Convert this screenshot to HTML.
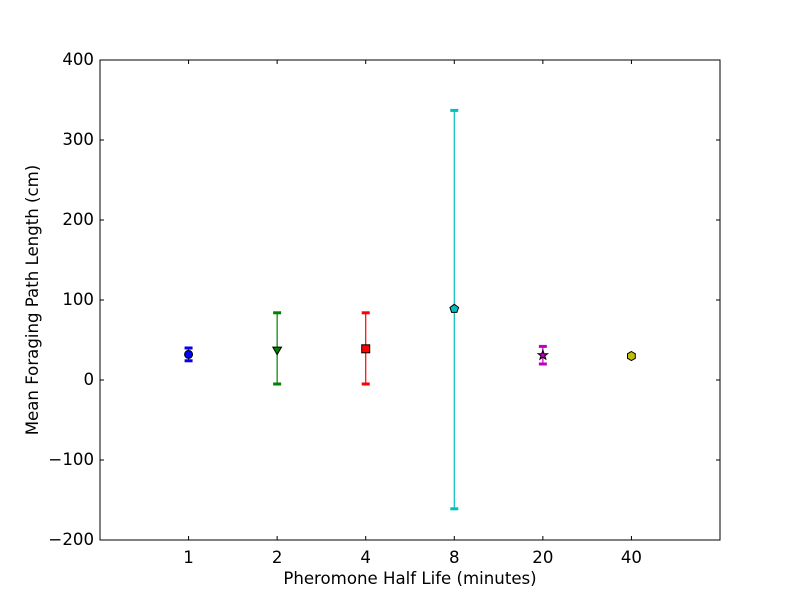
<!DOCTYPE html>
<html><head><meta charset="utf-8"><style>body{margin:0;background:#fff}svg{font-family:"DejaVu Sans","Liberation Sans",sans-serif}</style></head>
<body>
<svg id="c" width="800" height="600"></svg>
<script>
const categories=["1","2","4","8","20","40"];
const means=[32,38,39,89,31,30];
const upper=[40,84,84,337,42,32];
const lower=[24,-5,-5,-161,20,28];
const colors=["#0000ff","#008000","#ff0000","#00bfbf","#bf00bf","#bfbf00"];
const markers=["circle","tri","square","pent","star","hex"];
const yTicks=[-200,-100,0,100,200,300,400];
const NS="http://www.w3.org/2000/svg";
const svg=document.getElementById('c');
const L=100,R=720,T=60,B=540;
const x=i=>L+(i+1)*(R-L)/7;
const y=v=>B-(v+200)*(B-T)/600;
function el(t,a,p){const e=document.createElementNS(NS,t);for(const k in a)e.setAttribute(k,a[k]);(p||svg).appendChild(e);return e;}
const frame=el('rect',{x:L,y:T,width:R-L,height:B-T,fill:'none',stroke:'#000'});


yTicks.forEach(v=>{
  const g=el('g',{});
  
  
  el('line',{x1:L,x2:L+4,y1:y(v),y2:y(v),stroke:'#000'},g);
  el('line',{x1:R,x2:R-4,y1:y(v),y2:y(v),stroke:'#000'},g);
  const t=el('text',{x:L-6,y:y(v)+5,'text-anchor':'end','font-size':16.6},g);
  t.textContent=v<0?'\u2212'+Math.abs(v):v;
});
categories.forEach((c,i)=>{
  const g=el('g',{});
  
  
  el('line',{x1:x(i),x2:x(i),y1:B,y2:B-4,stroke:'#000'},g);
  el('line',{x1:x(i),x2:x(i),y1:T,y2:T+4,stroke:'#000'},g);
  const t=el('text',{x:x(i),y:B+23,'text-anchor':'middle','font-size':16.6},g);
  t.textContent=c;
});
function pts(n,r,cx,cy,rot,inner){let s=[];const m=inner?2*n:n;for(let k=0;k<m;k++){const a=rot+k*2*Math.PI/m;const rr=inner&&k%2?r*inner:r;s.push((cx+rr*Math.sin(a)).toFixed(1)+','+(cy-rr*Math.cos(a)).toFixed(1));}return s.join(' ');}
categories.forEach((c,i)=>{
  const g=el('g',{});
  
  
  const cx=x(i),col=colors[i];
  el('line',{x1:cx,x2:cx,y1:y(upper[i]),y2:y(lower[i]),stroke:col,'stroke-width':1.2},g);
  [upper[i],lower[i]].forEach(v=>el('line',{x1:cx-4,x2:cx+4,y1:y(v),y2:y(v),stroke:col,'stroke-width':3},g));
  const cy=y(means[i]);const st={fill:col,stroke:'#000','stroke-width':1};
  const m=markers[i];let mk;
  if(m==='circle')mk=el('circle',Object.assign({cx,cy,r:4},st),g);
  else if(m==='square')mk=el('rect',Object.assign({x:cx-4,y:cy-4,width:8,height:8},st),g);
  else if(m==='tri')mk=el('polygon',Object.assign({points:pts(3,5,cx,cy,Math.PI)},st),g);
  else if(m==='pent')mk=el('polygon',Object.assign({points:pts(5,4.5,cx,cy,0)},st),g);
  else if(m==='star')mk=el('polygon',Object.assign({points:pts(5,5,cx,cy,0,0.4)},st),g);
  else mk=el('polygon',Object.assign({points:pts(6,4.5,cx,cy,0)},st),g);
  
  
});
const xt=el('text',{x:410,y:584,'text-anchor':'middle','font-size':16.6});xt.textContent='Pheromone Half Life (minutes)';


const yt=el('text',{x:38,y:300,'text-anchor':'middle','font-size':16.6,transform:'rotate(-90 38 300)'});yt.textContent='Mean Foraging Path Length (cm)';


</script>
</body></html>
